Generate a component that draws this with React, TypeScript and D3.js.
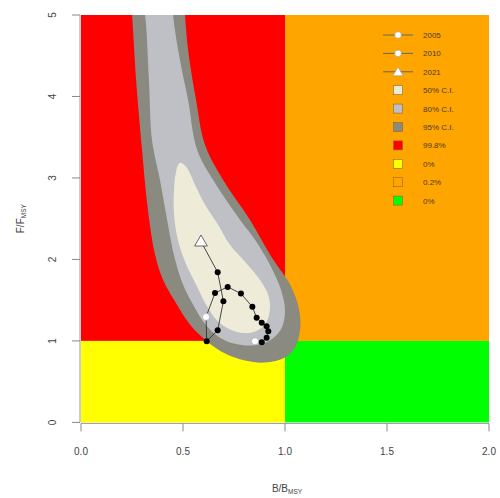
import React from 'react'
import * as d3 from 'd3'

const W = 500, H = 498
const margin = { left: 81, right: 11, top: 15, bottom: 75 }

// kobe quadrants
const quadrants = [
    { b0: 0, b1: 1, f0: 1, f1: 5, fill: "#FF0000" },
    { b0: 1, b1: 2, f0: 1, f1: 5, fill: "#FFA500" },
    { b0: 0, b1: 1, f0: 0, f1: 1, fill: "#FFFF00" },
    { b0: 1, b1: 2, f0: 0, f1: 1, fill: "#00FF00" },
]

// confidence regions, B/Bmsy
const ci95B = [0.240, 0.250, 0.270, 0.299, 0.328, 0.363, 0.402, 0.461, 0.534, 0.618, 0.706, 0.804, 0.902, 1.000, 1.049, 1.074, 1.069, 1.025, 0.936, 0.828, 0.696, 0.608, 0.564, 0.525, 0.510, 0.505]
const ci95F = [5.245, 5.000, 4.203, 3.346, 2.610, 2.059, 1.752, 1.483, 1.201, 0.993, 0.846, 0.760, 0.735, 0.797, 0.919, 1.140, 1.385, 1.691, 2.022, 2.488, 2.978, 3.407, 3.958, 4.571, 5.000, 5.245]
const ci80B = [0.294, 0.314, 0.333, 0.348, 0.387, 0.422, 0.461, 0.500, 0.549, 0.618, 0.706, 0.828, 0.917, 0.980, 1.000, 0.980, 0.926, 0.853, 0.779, 0.647, 0.569, 0.525, 0.485, 0.451, 0.446]
const ci80F = [5.245, 5.000, 4.203, 3.468, 2.978, 2.488, 1.998, 1.691, 1.446, 1.176, 1.005, 0.944, 0.993, 1.140, 1.360, 1.630, 1.936, 2.243, 2.488, 2.978, 3.346, 3.958, 4.449, 5.000, 5.245]
const ci50B = [0.485, 0.515, 0.559, 0.608, 0.672, 0.730, 0.804, 0.877, 0.917, 0.926, 0.902, 0.838, 0.755, 0.672, 0.613, 0.564, 0.510, 0.475, 0.456, 0.456, 0.466]
const ci50F = [3.186, 3.137, 2.917, 2.672, 2.426, 2.181, 1.973, 1.752, 1.569, 1.385, 1.201, 1.103, 1.115, 1.238, 1.446, 1.691, 1.973, 2.243, 2.549, 2.855, 3.076]

// stock trajectory
const years = [2005, 2006, 2007, 2008, 2009, 2010, 2011, 2012, 2013, 2014, 2015, 2016, 2017, 2018, 2019, 2020, 2021]
const trajB = [0.853, 0.886, 0.910, 0.918, 0.910, 0.886, 0.861, 0.840, 0.784, 0.719, 0.657, 0.613, 0.616, 0.670, 0.698, 0.670, 0.588]
const trajF = [0.996, 0.984, 1.038, 1.119, 1.180, 1.222, 1.283, 1.418, 1.581, 1.663, 1.589, 1.295, 0.996, 1.131, 1.487, 1.842, 2.222]
const markIdx = [0, 11, 16]

const xTicks = [0, 0.5, 1, 1.5, 2]
const yTicks = [0, 1, 2, 3, 4, 5]

const legendYears = ["2005", "2010", "2021"]
const legendLabels = ["50% C.I.", "80% C.I.", "95% C.I.", "99.8%", "0%", "0.2%", "0%"]
const legendFills = ["#EEEBD9", "#BFC0C6", "#8A8A80", "#FF0000", "#FFFF00", "#FFA500", "#00FF00"]

const x = d3.scaleLinear().domain([0, 2]).range([margin.left, W - margin.right])
const y = d3.scaleLinear().domain([0, 5]).range([H - margin.bottom - 0.6, margin.top])

const font = "'Liberation Sans', Arial, sans-serif"

const region = (bs, fs) => d3.line()
    .x(i => x(bs[i]))
    .y(i => y(fs[i]))
    .curve(d3.curveCatmullRomClosed.alpha(0.5))(d3.range(bs.length))

const Quadrants = () => (
    <g>
        {quadrants.map((q, i) =>
            <rect key={i} x={x(q.b0)} y={y(q.f1)} width={x(q.b1) - x(q.b0)}
                height={y(q.f0) - y(q.f1)} fill={q.fill} />)}
    </g>
)

const Regions = () => (
    <g clipPath="url(#plotclip)">
        <path d={region(ci95B, ci95F)} fill={legendFills[2]} />
        <path d={region(ci80B, ci80F)} fill={legendFills[1]} />
        <path d={region(ci50B, ci50F)} fill={legendFills[0]} />
    </g>
)

const Trajectory = () => {
    const line = d3.line().x((d, i) => x(trajB[i])).y((d, i) => y(trajF[i]))
    const tri = d3.symbol().type(d3.symbolTriangle).size(70)
    return (
        <g>
            <path d={line(years)} fill="none" stroke="#333" strokeWidth={0.9} />
            {years.map((yr, i) => markIdx.includes(i) ? null :
                <circle key={yr} cx={x(trajB[i])} cy={y(trajF[i])} r={3} fill="#000" />)}
            <circle cx={x(trajB[markIdx[0]])} cy={y(trajF[markIdx[0]])} r={3.6} fill="#fff" stroke="#999" strokeWidth={0.6} />
            <circle cx={x(trajB[markIdx[1]])} cy={y(trajF[markIdx[1]])} r={3.6} fill="#fff" stroke="#999" strokeWidth={0.6} />
            <path d={tri()} transform={`translate(${x(trajB[markIdx[2]])},${y(trajF[markIdx[2]]) + 1})`}
                fill="#fff" stroke="#444" strokeWidth={0.8} />
        </g>
    )
}

const Axes = () => {
    const bottom = y(0) + 1
    const left = x(0) - 1
    const txt = { fill: "#444", fontSize: 10, fontFamily: font }
    return (
        <g>
            <line x1={x(0)} x2={x(2)} y1={bottom} y2={bottom} stroke="#999" />
            {xTicks.map(t =>
                <g key={t}>
                    <line x1={x(t)} x2={x(t)} y1={bottom} y2={bottom + 8} stroke="#888" />
                    <text {...txt} x={x(t)} y={bottom + 32} textAnchor="middle">{d3.format(".1f")(t)}</text>
                </g>)}
            <line x1={left} x2={left} y1={y(0)} y2={y(5)} stroke="#999" />
            {yTicks.map(t =>
                <g key={t}>
                    <line x1={left} x2={left - 8} y1={y(t)} y2={y(t)} stroke="#888" />
                    <text {...txt} transform={`translate(${left - 24},${y(t)}) rotate(-90)`} textAnchor="middle">{t}</text>
                </g>)}
            <text {...txt} x={(x(0) + x(2)) / 2 + 2} y={H - 6} textAnchor="middle">
                B/B<tspan fontSize={6.5} dy={2}>MSY</tspan>
            </text>
            <text {...txt} transform={`translate(24,${(y(0) + y(5)) / 2}) rotate(-90)`} textAnchor="middle">
                F/F<tspan fontSize={6.5} dy={2}>MSY</tspan>
            </text>
        </g>
    )
}

const Legend = () => {
    const lx = 398, ly = 35, step = 18.4
    const txt = { fill: "#4a3a20", fontSize: 8, fontFamily: font, dy: 3 }
    const tri = d3.symbol().type(d3.symbolTriangle).size(45)
    return (
        <g>
            {legendYears.map((lab, i) =>
                <g key={lab} transform={`translate(0,${ly + i * step})`}>
                    <line x1={lx - 15} x2={lx + 15} y1={0} y2={0} stroke="#666" />
                    {i < 2
                        ? <circle cx={lx} cy={0} r={3.3} fill="#fff" stroke="#999" strokeWidth={0.6} />
                        : <path d={tri()} transform={`translate(${lx},1)`} fill="#fff" stroke="#999" strokeWidth={0.6} />}
                    <text {...txt} x={lx + 25}>{lab}</text>
                </g>)}
            {legendLabels.map((lab, i) =>
                <g key={i} transform={`translate(0,${ly + (i + 3) * step})`}>
                    <rect x={lx - 4.5} y={-4.5} width={9} height={9} fill={legendFills[i]}
                        stroke="#8a6a30" strokeWidth={0.6} />
                    <text {...txt} x={lx + 25}>{lab}</text>
                </g>)}
        </g>
    )
}

export default function App() {
    return (
        <svg width={W} height={H} style={{ position: "absolute", left: 0, top: 0, background: "#fff" }}>
            <defs>
                <clipPath id="plotclip">
                    <rect x={x(0)} y={y(5)} width={x(2) - x(0)} height={y(0) - y(5)} />
                </clipPath>
            </defs>
            <Quadrants />
            <Regions />
            <Trajectory />
            <Legend />
            <Axes />
        </svg>
    )
}
